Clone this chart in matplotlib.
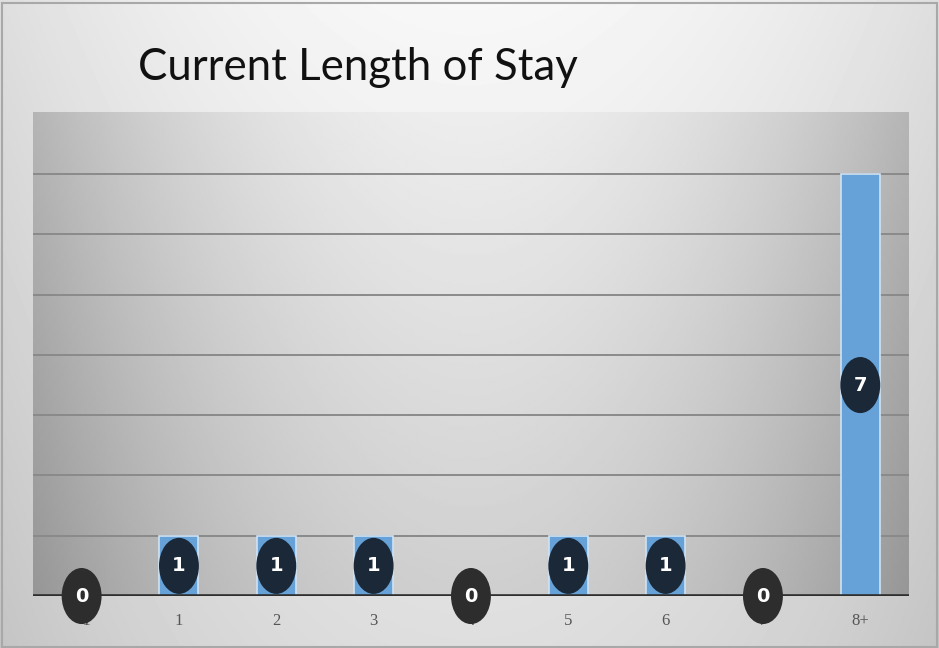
import numpy as np
import matplotlib.pyplot as plt
from matplotlib.patches import Ellipse, Rectangle

# days in hospital -> number of patients
categories = ["<1", "1", "2", "3", "4", "5", "6", "7", "8+"]
patients = [0, 1, 1, 1, 0, 1, 1, 0, 7]

fig = plt.figure(figsize=(9.39, 6.48), dpi=100)

# slide background: soft white in the upper middle, grey towards the edges
bg = fig.add_axes([0, 0, 1, 1], zorder=-10)
gx, gy = np.meshgrid(np.linspace(-1, 1, 300), np.linspace(0, 1, 200))
shade = 0.97 - 0.10 * gx**2 - 0.10 * gy
bg.imshow(shade, cmap="gray", vmin=0, vmax=1, aspect="auto",
          extent=[0, 1, 1, 0], interpolation="bilinear")
bg.add_patch(Rectangle((0.002, 0.002), 0.996, 0.994, fill=False,
                       edgecolor="#a8a8a8", lw=1.5, transform=bg.transAxes))
bg.set_xlim(0, 1)
bg.set_ylim(1, 0)
bg.axis("off")

fig.text(0.147, 0.877, "Current Length of Stay", fontsize=31.5,
         family="Lato", color="#111111", va="baseline", ha="left")

ax = fig.add_axes([0.0351, 0.0802, 0.9329, 0.747])
ax.set_facecolor("none")

# plot area gradient: lighter in the top centre, darker at the sides
px, py = np.meshgrid(np.linspace(-1, 1, 300), np.linspace(0, 1, 200))
area = 0.93 - 0.22 * px**2 - 0.12 * py
ax.imshow(area, cmap="gray", vmin=0, vmax=1, aspect="auto",
          extent=[0, 1, 0, 1], origin="upper", transform=ax.transAxes,
          zorder=0, interpolation="bilinear")

x = np.arange(len(categories))
ax.bar(x, patients, width=0.4, color="#66a1d7", edgecolor="#cfe2f3",
       linewidth=1.2, zorder=3)

ax.set_xlim(-0.5, len(categories) - 0.5)
ax.set_ylim(0, 8.03)
ax.set_yticks(range(1, 8))
ax.yaxis.grid(True, color="#8a8a8a", lw=1.4, zorder=1)
ax.set_axisbelow(True)
ax.tick_params(axis="y", left=False, labelleft=False)
ax.tick_params(axis="x", length=0, pad=12)
ax.set_xticks(x)
ax.set_xticklabels(categories, family="Liberation Serif", fontsize=12,
                   color="#555555")
for s in ax.spines.values():
    s.set_visible(False)
ax.axhline(0, color="#2e2e2e", lw=2.6, zorder=4)

# value bubbles, centred on each bar
for xi, v in zip(x, patients):
    face = "#2d2d2d" if v == 0 else "#1b2838"
    ax.add_patch(Ellipse((xi, v / 2), 0.41, 0.93, facecolor=face,
                         edgecolor="none", zorder=6, clip_on=False))
    ax.text(xi, v / 2, str(v), color="white", fontsize=14, weight="bold",
            ha="center", va="center", zorder=7, family="DejaVu Sans")

fig.savefig("out.png", dpi=100)
